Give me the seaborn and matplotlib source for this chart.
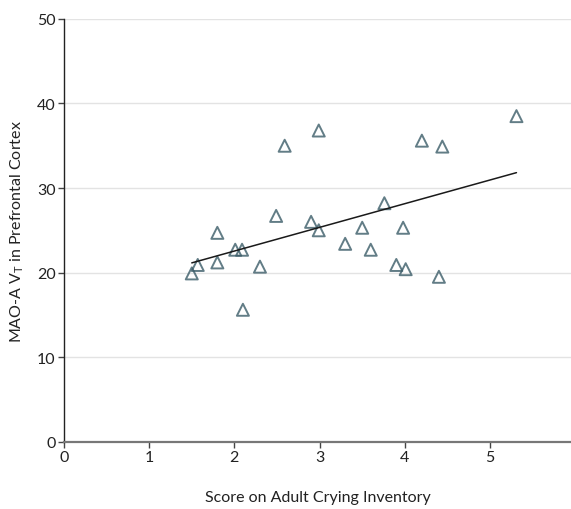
import matplotlib
matplotlib.use("Agg")
import matplotlib.pyplot as plt
import seaborn as sns
import pandas as pd

aci_score = [1.50, 1.57, 1.80, 1.80, 2.01, 2.09, 2.10, 2.30, 2.49, 2.59, 2.90, 2.99,
             2.99, 3.30, 3.50, 3.60, 3.76, 3.90, 3.98, 4.01, 4.20, 4.40, 4.44, 5.31]
mao_vt = [19.9, 20.9, 24.7, 21.2, 22.7, 22.7, 15.6, 20.7, 26.7, 35.0, 26.0, 36.8,
          25.0, 23.4, 25.3, 22.7, 28.2, 20.9, 25.3, 20.4, 35.6, 19.5, 34.9, 38.5]
x_ticks = [0, 1, 2, 3, 4, 5]
y_ticks = [0, 10, 20, 30, 40, 50]

df = pd.DataFrame({"x": aci_score, "y": mao_vt})

sns.set_theme(style="white")
plt.rcParams['font.family'] = ['Lato', 'DejaVu Sans']

fig = plt.figure(figsize=(5.71, 5.10), dpi=100)
ax = fig.add_axes([0.112, 0.132, 0.888, 0.829])

sns.regplot(data=df, x="x", y="y", ax=ax, ci=None, marker="^",
            scatter_kws=dict(s=75, facecolors="none",
                             edgecolors="#3b5c68", linewidths=1.4),
            line_kws=dict(color="#1a1a1a", lw=1.1))

ax.set_xlim(0, 5.95)
ax.set_ylim(0, 50)
ax.set_xticks(x_ticks)
ax.set_yticks(y_ticks)
ax.yaxis.grid(True, color="#e3e3e3", lw=1)
ax.set_axisbelow(True)
for s in ["top", "right"]:
    ax.spines[s].set_visible(False)
ax.spines["left"].set_color("#222222")
ax.spines["left"].set_linewidth(1)
ax.spines["bottom"].set_color("#777777")
ax.spines["bottom"].set_linewidth(1.6)
ax.tick_params(axis="both", direction="out", length=4, width=1, color="#444444",
               labelsize=11.5, labelcolor="#222222", pad=2, bottom=True, left=True)
ax.set_xlabel("Score on Adult Crying Inventory", fontsize=11.5, color="#222222", labelpad=19)
ax.set_ylabel("MAO-A V$_\\mathregular{T}$ in Prefrontal Cortex", fontsize=11.5, color="#222222", labelpad=8)

fig.savefig("out.png", dpi=100)
